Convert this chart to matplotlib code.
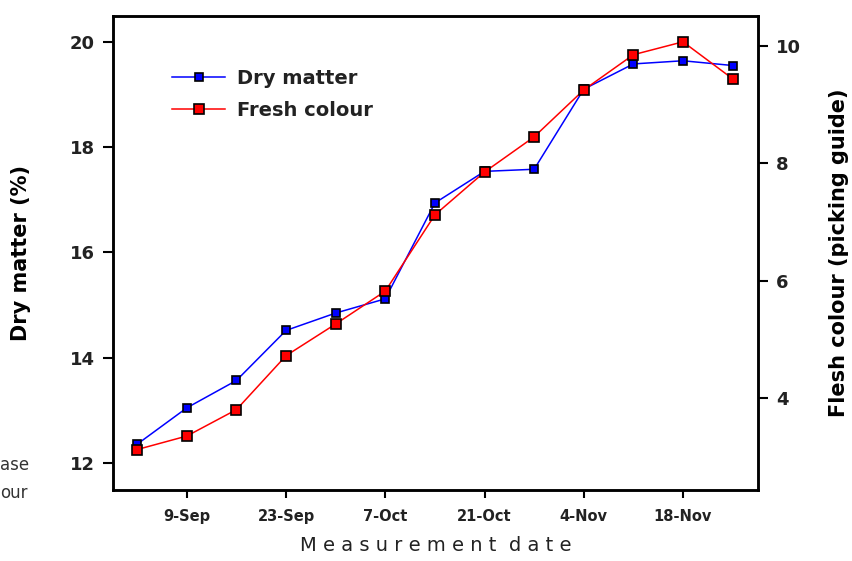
import matplotlib
matplotlib.use("Agg")
import matplotlib.pyplot as plt
import pandas as pd

# weekly measurement dates
dates = pd.date_range("2023-09-02", "2023-11-25", freq="7D")
dry_matter = [12.36, 13.05, 13.57, 14.52, 14.85, 15.12, 16.94, 17.54, 17.58, 19.1, 19.58, 19.64, 19.55]
flesh_colour = [3.12, 3.35, 3.80, 4.72, 5.26, 5.82, 7.12, 7.85, 8.45, 9.25, 9.85, 10.07, 9.44]
tick_dates = pd.to_datetime(["2023-09-09", "2023-09-23", "2023-10-07", "2023-10-21",
                             "2023-11-04", "2023-11-18"])
tick_labels = ["9-Sep", "23-Sep", "7-Oct", "21-Oct", "4-Nov", "18-Nov"]

plt.rcParams["font.family"] = "DejaVu Sans"

fig = plt.figure(figsize=(8.53, 5.61), dpi=100)
ax = fig.add_axes([113 / 853, 1 - 490 / 561, 645 / 853, 474 / 561])
ax2 = ax.twinx()

l1, = ax.plot(dates, dry_matter, color="blue", lw=1.1, marker="s", ms=6,
              mfc="blue", mec="black", mew=1.2, label="Dry matter", zorder=3)
l2, = ax2.plot(dates, flesh_colour, color="red", lw=1.1, marker="s", ms=7.5,
               mfc="red", mec="black", mew=1.2, label="Fresh colour", zorder=3)

ax.set_xlim(pd.Timestamp("2023-08-29 14:00"), pd.Timestamp("2023-11-28 14:00"))
ax.set_ylim(11.49, 20.49)
ax2.set_ylim(2.43, 10.51)
ax.set_yticks([12, 14, 16, 18, 20])
ax2.set_yticks([4, 6, 8, 10])
ax.set_xticks(tick_dates)
ax.set_xticklabels(tick_labels)

for a in (ax, ax2):
    for s in a.spines.values():
        s.set_linewidth(1.8)
ax.tick_params(axis="y", direction="out", length=7, width=1.5, labelsize=13, pad=6)
ax.tick_params(axis="x", direction="out", length=6, width=1.5, labelsize=10.5, pad=8)
ax2.tick_params(axis="y", direction="out", length=7, width=1.5, labelsize=13, pad=6)
for lab in ax.get_xticklabels() + ax.get_yticklabels() + ax2.get_yticklabels():
    lab.set_fontweight("bold")
    lab.set_color("#222222")

ax.set_ylabel("Dry matter (%)", fontsize=15, fontweight="bold", labelpad=28)
ax2.set_ylabel("Flesh colour (picking guide)", fontsize=15, fontweight="bold",
               labelpad=20)
ax.set_xlabel("M e a s u r e m e n t  d a t e", fontsize=14, labelpad=8,
              color="#222222")

ax.legend(handles=[l1, l2], loc="upper left", bbox_to_anchor=(0.065, 0.925),
          frameon=False, prop={"size": 14, "weight": "bold"}, handlelength=2.7,
          labelspacing=0.65, handletextpad=0.6, labelcolor="#222222")

fig.text(0.0, 1 - 465 / 561, "ase", fontsize=12, color="#333333", va="center")
fig.text(0.0, 1 - 493 / 561, "our", fontsize=12, color="#333333", va="center")

fig.savefig("out.png", dpi=100)
